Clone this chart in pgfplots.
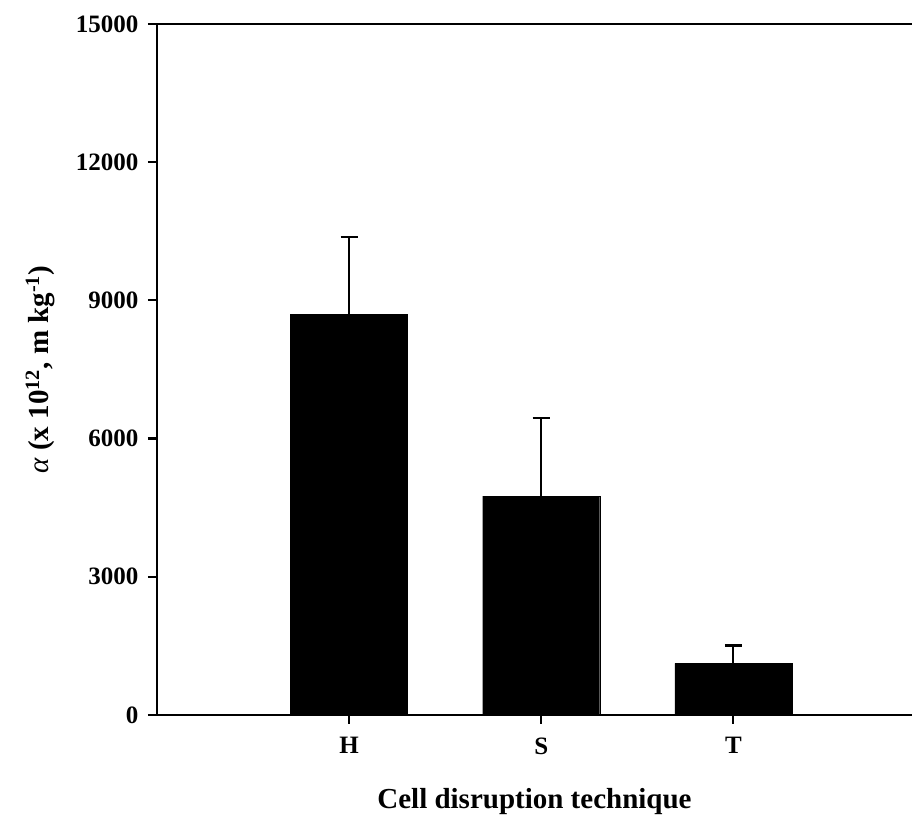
\documentclass[border=0pt]{standalone}
\usepackage{pgfplots}
\pgfplotsset{compat=1.18}
\usepackage{fontspec}
\setmainfont{Liberation Serif}
\begin{document}
\begin{tikzpicture}
\begin{axis}[
  scale only axis,
  width=755pt, height=691pt,
  xmin=0, xmax=3.93,
  ymin=0, ymax=15000,
  axis x line*=bottom,
  axis y line*=left,
  axis line style={line width=2.4pt},
  xtick={1,2,3},
  xticklabels={H,S,T},
  ytick={0,3000,6000,9000,12000,15000},
  scaled y ticks=false,
  tick align=outside,
  major tick length=9pt,
  every tick/.style={line width=2.2pt, black},
  /pgf/number format/1000 sep={},
  /pgf/number format/assume math mode=true,
  tick label style={font=\fontsize{25}{30}\selectfont\bfseries},
  yticklabel style={xshift=-6pt},
  xticklabel style={yshift=-10pt},
  xlabel={Cell disruption technique},
  ylabel={{\normalfont\itshape α} (x 10\textsuperscript{12}, m kg\textsuperscript{-1})},
  every axis x label/.style={at={(rel axis cs:0.5,0)}, anchor=center, yshift=-87pt, font=\fontsize{29}{34}\selectfont\bfseries},
  every axis y label/.style={at={(rel axis cs:0,0.5)}, anchor=center, xshift=-117pt, rotate=90, font=\fontsize{29}{34}\selectfont\bfseries},
  clip=false,
]
\addplot[ybar, bar width=117pt, fill=black, draw=black,
  error bars/.cd, y dir=plus, y explicit,
  error bar style={line width=2.2pt, black},
  error mark options={rotate=90, mark size=8.5pt, line width=2.2pt, black}]
  coordinates {(1,8700) +- (0,1680) (2,4750) +- (0,1690) (3,1120) +- (0,390)};
\draw[line width=2.4pt] (rel axis cs:0,1) -- (rel axis cs:1,1);
\end{axis}
\pgfresetboundingbox
\path ([shift={(-157pt,-103pt)}]current axis.south west) rectangle ([shift={(0pt,24pt)}]current axis.north east);
\end{tikzpicture}
\end{document}
